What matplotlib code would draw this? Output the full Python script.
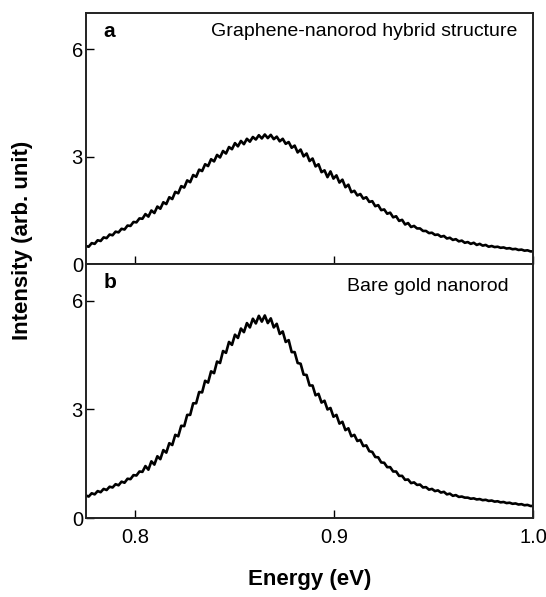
import numpy as np
import matplotlib
matplotlib.use("Agg")
import matplotlib.pyplot as plt

plt.rcParams['font.family'] = ['Liberation Sans', 'DejaVu Sans']

# Energy range (eV) of the spectra
e_start, e_end = 0.775, 1.0

# Panel a: graphene-nanorod hybrid structure (arb. unit)
hybrid = [
    0.51, 0.49, 0.59, 0.57, 0.67, 0.65, 0.75, 0.73, 0.83, 0.81,
    0.91, 0.89, 0.99, 0.97, 1.08, 1.07, 1.18, 1.17, 1.28, 1.27,
    1.40, 1.33, 1.50, 1.43, 1.61, 1.55, 1.73, 1.68, 1.87, 1.82,
    2.02, 1.98, 2.18, 2.14, 2.34, 2.29, 2.49, 2.44, 2.64, 2.60,
    2.79, 2.74, 2.93, 2.87, 3.05, 2.98, 3.16, 3.09, 3.27, 3.21,
    3.38, 3.29, 3.44, 3.35, 3.50, 3.42, 3.55, 3.48, 3.60, 3.51,
    3.62, 3.52, 3.61, 3.49, 3.56, 3.43, 3.50, 3.36, 3.41, 3.25,
    3.31, 3.12, 3.20, 3.01, 3.09, 2.88, 2.95, 2.73, 2.79, 2.57,
    2.62, 2.43, 2.59, 2.39, 2.48, 2.28, 2.36, 2.15, 2.22, 2.01,
    2.05, 1.92, 1.96, 1.83, 1.87, 1.74, 1.76, 1.62, 1.65, 1.51,
    1.53, 1.41, 1.44, 1.31, 1.34, 1.21, 1.24, 1.11, 1.15, 1.04,
    1.07, 1.00, 1.00, 0.93, 0.93, 0.87, 0.88, 0.82, 0.83, 0.77,
    0.79, 0.72, 0.74, 0.68, 0.70, 0.64, 0.66, 0.60, 0.62, 0.57,
    0.60, 0.54, 0.57, 0.52, 0.54, 0.49, 0.51, 0.48, 0.49, 0.46,
    0.47, 0.44, 0.45, 0.42, 0.43, 0.40, 0.41, 0.38, 0.39, 0.36,
    0.36,
]

# Panel b: bare gold nanorod (arb. unit)
bare = [
    0.63, 0.60, 0.69, 0.66, 0.75, 0.72, 0.81, 0.78, 0.87, 0.85,
    0.94, 0.91, 1.01, 0.98, 1.09, 1.08, 1.19, 1.18, 1.29, 1.28,
    1.44, 1.34, 1.57, 1.48, 1.71, 1.63, 1.88, 1.81, 2.07, 2.02,
    2.30, 2.26, 2.55, 2.54, 2.85, 2.85, 3.17, 3.17, 3.48, 3.47,
    3.79, 3.74, 4.05, 4.00, 4.32, 4.28, 4.61, 4.56, 4.86, 4.78,
    5.06, 4.97, 5.23, 5.13, 5.38, 5.26, 5.50, 5.37, 5.58, 5.42,
    5.59, 5.38, 5.51, 5.26, 5.36, 5.08, 5.15, 4.86, 4.91, 4.58,
    4.58, 4.28, 4.26, 3.96, 3.95, 3.66, 3.66, 3.39, 3.43, 3.19,
    3.24, 3.00, 3.04, 2.80, 2.85, 2.61, 2.66, 2.43, 2.48, 2.26,
    2.30, 2.13, 2.16, 1.99, 2.01, 1.85, 1.83, 1.69, 1.68, 1.54,
    1.53, 1.41, 1.41, 1.29, 1.29, 1.17, 1.17, 1.06, 1.07, 0.97,
    0.99, 0.92, 0.93, 0.85, 0.86, 0.79, 0.81, 0.75, 0.77, 0.71,
    0.73, 0.66, 0.68, 0.62, 0.64, 0.59, 0.60, 0.57, 0.57, 0.54,
    0.55, 0.52, 0.53, 0.50, 0.51, 0.48, 0.49, 0.46, 0.47, 0.44,
    0.45, 0.42, 0.43, 0.40, 0.41, 0.38, 0.39, 0.36, 0.37, 0.34,
    0.34,
]

x_ticks = [0.8, 0.9, 1.0]
x_ticklabels = ['0.8', '0.9', '1.0']
y_ticks = [0, 3, 6]
panel_letters = ['a', 'b']
panel_titles = ['Graphene-nanorod hybrid structure', 'Bare gold nanorod']
title_x = [0.963, 0.945]
title_y = [0.962, 0.948]

fig = plt.figure(figsize=(5.46, 5.97), dpi=100)
L, W = 0.157, 0.820
ax_a = fig.add_axes([L, 0.5573, W, 0.4204])
ax_b = fig.add_axes([L, 0.1318, W, 0.4255])

for i, (ax, data) in enumerate(zip([ax_a, ax_b], [hybrid, bare])):
    e = np.linspace(e_start, e_end, len(data))
    ax.plot(e, data, color='black', lw=1.9)
    ax.set_xlim(e_start, e_end)
    ax.set_ylim(0, 7)
    ax.set_yticks(y_ticks)
    ax.set_xticks(x_ticks)
    ax.tick_params(direction='in', length=6, width=1.0, labelsize=14.5, pad=2,
                   colors='black')
    ax.tick_params(axis='x', pad=7)
    for s in ax.spines.values():
        s.set_linewidth(1.4)
        s.set_color('#222222')
    ax.text(0.04, 0.965, panel_letters[i], transform=ax.transAxes, fontsize=15,
            fontweight='bold', va='top', ha='left')
    ax.text(title_x[i], title_y[i], panel_titles[i], transform=ax.transAxes,
            fontsize=14, va='top', ha='right')

ax_a.tick_params(axis='x', labelbottom=False)
ax_b.set_xticklabels(x_ticklabels)

fig.text(0.042, 0.598, 'Intensity (arb. unit)', rotation=90, fontsize=16,
         fontweight='bold', ha='center', va='center')
fig.text(0.567, 0.011, 'Energy (eV)', fontsize=16,
         fontweight='bold', ha='center', va='bottom')

fig.savefig('out.png', dpi=100)
